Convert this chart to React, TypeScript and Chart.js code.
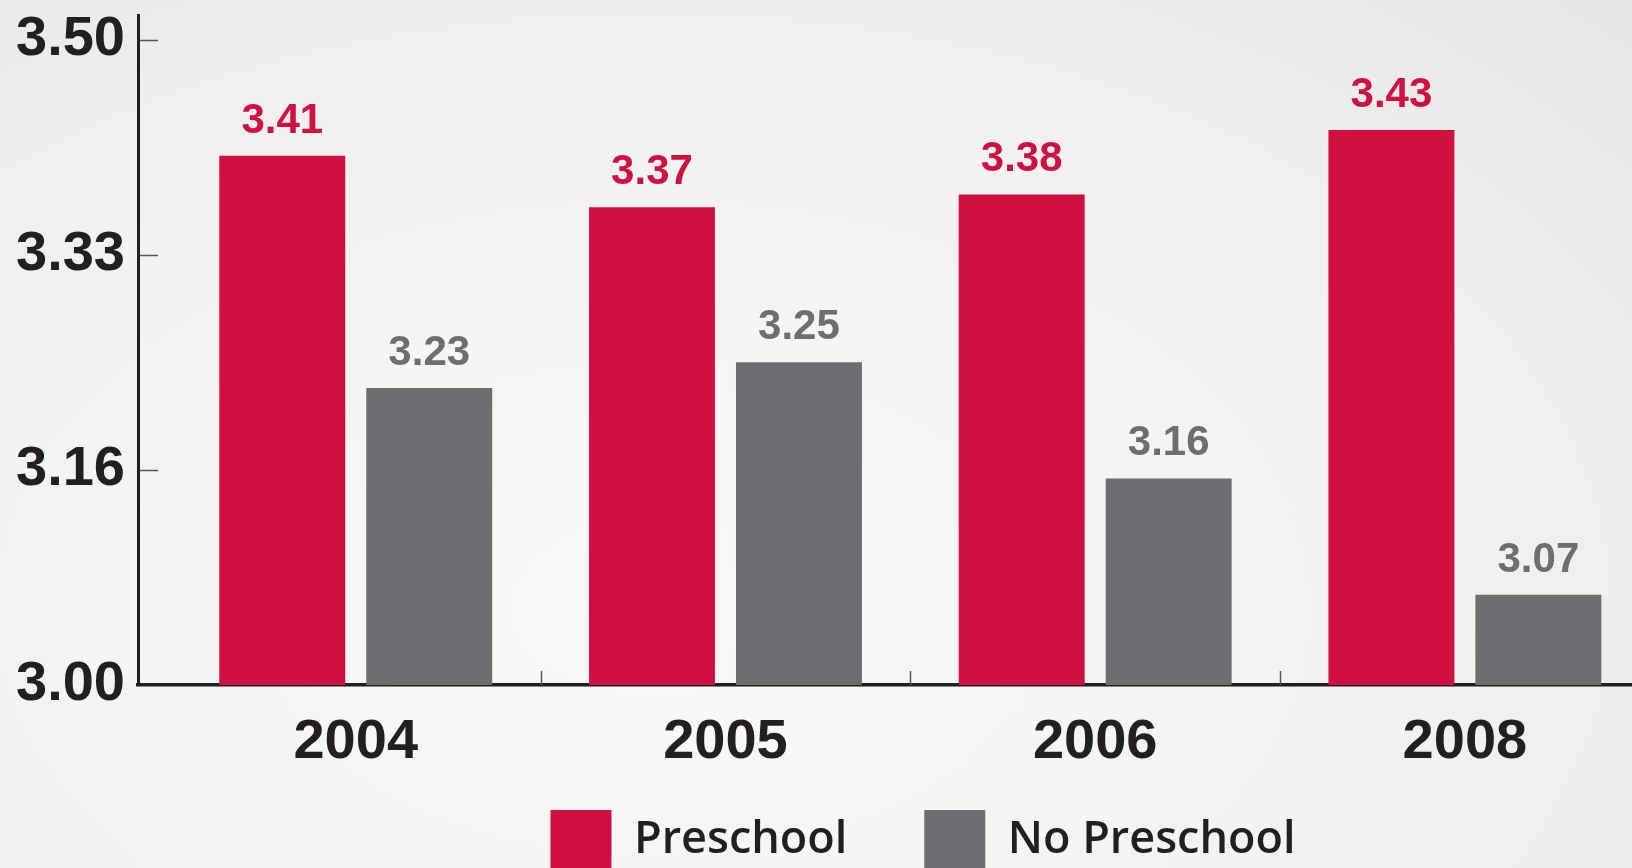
import React, { useEffect, useRef } from "react";
import { Chart, registerables } from "chart.js";

Chart.register(...registerables);

// ---- data ----
const years = ["2004", "2005", "2006", "2008"];
const seriesNames = ["Preschool", "No Preschool"];
const preschool = [3.41, 3.37, 3.38, 3.43];
const noPreschool = [3.23, 3.25, 3.16, 3.07];
const yTickValues = [3.0, 3.1667, 3.3333, 3.5];
const yTickLabels = ["3.00", "3.16", "3.33", "3.50"];

// ---- style ----
const RED = "#d0103f";
const GREY = "#6d6e72";
const INK = "#231f20";
const SANS = '"Liberation Sans", Arial, sans-serif';
const LEGEND_SHIFT_X = 107;
const LEGEND_BOX_TOP = 810;
const LEGEND_PAD = 77;
const LEGEND_BOX = 61;
const X_AXIS_H = 110;
const PLOT_BOTTOM = 685;
const CANVAS_H = PLOT_BOTTOM + X_AXIS_H + LEGEND_BOX + LEGEND_PAD + 10;

const innerTicks = {
  id: "innerTicks",
  afterDraw(chart: any) {
    const { ctx, chartArea, scales } = chart;
    const ys = scales.y;
    const xs = scales.x;
    ctx.save();
    ctx.strokeStyle = "#555";
    ctx.lineWidth = 1.5;
    ys.ticks.forEach((t: any) => {
      if (t.value <= ys.min) return;
      const py = Math.round(ys.getPixelForValue(t.value)) + 0.5;
      ctx.beginPath();
      ctx.moveTo(chartArea.left + 1.5, py);
      ctx.lineTo(chartArea.left + 20, py);
      ctx.stroke();
    });
    for (let i = 0; i < years.length - 1; i++) {
      const px = Math.round(xs.getPixelForValue(i + 0.5)) + 0.5;
      ctx.beginPath();
      ctx.moveTo(px, chartArea.bottom);
      ctx.lineTo(px, chartArea.bottom - 14);
      ctx.stroke();
    }
    ctx.restore();
  },
};

const valueLabels = {
  id: "valueLabels",
  afterDatasetsDraw(chart: any) {
    const { ctx } = chart;
    ctx.save();
    ctx.font = `bold 42px ${SANS}`;
    ctx.textAlign = "center";
    ctx.textBaseline = "alphabetic";
    chart.data.datasets.forEach((ds: any, di: number) => {
      const meta = chart.getDatasetMeta(di);
      ctx.fillStyle = ds.labelColor;
      meta.data.forEach((el: any, i: number) => {
        const v = ds.data[i].y;
        ctx.fillText(v.toFixed(2), el.x, el.y - 23);
      });
    });
    ctx.restore();
  },
};

const legendPlace = {
  id: "legendPlace",
  afterLayout(chart: any) {
    const lg = chart.legend;
    if (lg) {
      lg.left += LEGEND_SHIFT_X;
      lg.right += LEGEND_SHIFT_X;
      const dy = LEGEND_BOX_TOP - LEGEND_PAD - lg.top;
      lg.top += dy;
      lg.bottom += dy;
    }
  },
};

export default function App() {
  const ref = useRef<HTMLCanvasElement | null>(null);

  useEffect(() => {
    if (!ref.current) return;
    const chart = new Chart(ref.current, {
      type: "bar",
      data: {
        datasets: [
          {
            label: seriesNames[0],
            data: preschool.map((v, i) => ({ x: i, y: v })),
            backgroundColor: RED,
            borderWidth: 0,
            labelColor: RED,
          } as any,
          {
            label: seriesNames[1],
            data: noPreschool.map((v, i) => ({ x: i, y: v })),
            backgroundColor: GREY,
            borderWidth: 0,
            labelColor: GREY,
          } as any,
        ],
      },
      options: {
        animation: false,
        responsive: true,
        maintainAspectRatio: false,
        layout: { padding: { top: 15, left: 0, right: 0, bottom: 0 } },
        datasets: {
          bar: { categoryPercentage: 0.795, barPercentage: 0.857 },
        },
        scales: {
          x: {
            type: "linear",
            offset: false,
            bounds: "data",
            min: -0.589,
            max: 3.452,
            afterFit(s: any) {
              s.height = X_AXIS_H;
              s.paddingLeft = 0;
              s.paddingRight = 0;
            },
            afterBuildTicks(s: any) {
              s.ticks = years.map((_, i) => ({ value: i }));
            },
            ticks: {
              callback: (_v: any, i: number) => years[i],
              font: { family: SANS, size: 56, weight: "bold" },
              color: INK,
              padding: 24,
              maxRotation: 0,
              autoSkip: false,
            },
            grid: { drawOnChartArea: false, drawTicks: false },
            border: { display: true, color: "#1f1f1f", width: 3.5 },
          } as any,
          y: {
            type: "linear",
            bounds: "data",
            min: 3.0,
            max: 3.519,
            afterFit(s: any) {
              s.width = 138;
              s.paddingTop = 0;
              s.paddingBottom = 0;
            },
            afterBuildTicks(s: any) {
              s.ticks = yTickValues.map((v) => ({ value: v }));
            },
            ticks: {
              callback: (_v: any, i: number) => yTickLabels[i],
              font: { family: SANS, size: 56, weight: "bold" },
              color: INK,
              padding: 13,
              autoSkip: false,
            },
            grid: { drawOnChartArea: false, drawTicks: false },
            border: { display: true, color: "#1f1f1f", width: 3 },
          } as any,
        },
        plugins: {
          legend: {
            position: "bottom",
            labels: {
              boxWidth: LEGEND_BOX,
              boxHeight: LEGEND_BOX,
              padding: LEGEND_PAD,
              color: INK,
              font: { family: '"Open Sans", sans-serif', size: 45, weight: "600" },
            },
          },
          tooltip: { enabled: false },
        },
      },
      plugins: [innerTicks, valueLabels, legendPlace],
    });
    return () => chart.destroy();
  }, []);

  return (
    <div
      style={{
        position: "fixed",
        left: 0,
        top: 0,
        width: 1632,
        height: 868,
        overflow: "hidden",
        background:
          "radial-gradient(ellipse at 40% 70%, #f9f9f9 0%, #f2f2f2 55%, #e6e6e6 100%)",
      }}
    >
      <div style={{ position: "relative", width: 1632, height: CANVAS_H }}>
        <canvas ref={ref} />
      </div>
    </div>
  );
}
